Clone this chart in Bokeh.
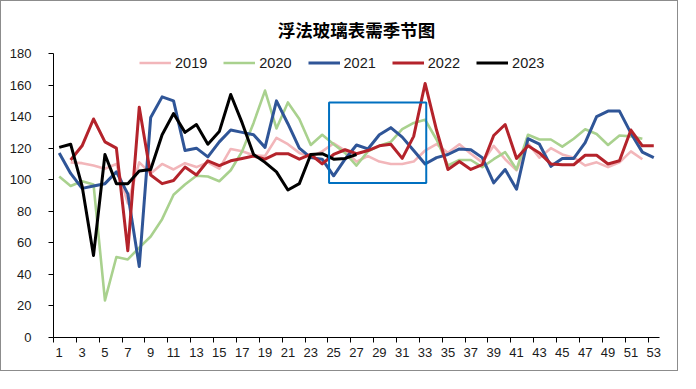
import numpy as np
from bokeh.plotting import figure
from bokeh.models import Range1d, FixedTicker, Legend, LegendItem, BoxAnnotation, ColumnDataSource
from bokeh.embed import file_html
from bokeh.resources import INLINE

nan = float("nan")

title_text = "浮法玻璃表需季节图"
weeks = list(range(1, 54))
x_tick_labels = list(range(1, 54, 2))
y_ticks = list(range(0, 181, 20))

s2019 = [nan, 111, 110.5, 109, 107, 110, 85, 111, 104, 110, 106.5, 110.5, 108, 111, 107, 119.5,
         118, 115.5, 115, 126.5, 122.5, 117, 114.5, 118, 123, 118.5, 111.5, 115, 111.5, 110, 110,
         111.5, 118.5, 122.5, 117, 122.5, 116.5, 111, 121.5, 113, 106, 123, 114, 120, 116, 114,
         109, 111, 108, 111, 118, 113, nan]
s2020 = [102, 96, 99, 97, 23.5, 51, 49.5, 57, 64, 75, 90.5, 97, 102.5, 102, 99, 106, 118, 136,
         156.5, 132.5, 149, 138.5, 122, 128.5, 122.5, 117, 109, 118, 121.5, 124, 132, 136, 138,
         125.5, 109, 112.5, 112.5, 108, 113, 117.5, 106.5, 128.5, 125.5, 125.5, 121, 126, 132,
         129, 122, 128, 127.5, 126, nan]
s2021 = [117, 104, 94.5, 96, 97.5, 105, 91, 45, 139.5, 152.5, 150, 118.5, 120, 114.5, 124, 131.5,
         130, 128.5, 120.5, 150, 135.5, 120, 114, 113, 102.5, 113, 122, 119.5, 128.5, 133, 127,
         118.5, 110, 114, 116, 119.5, 119, 114, 98, 106.5, 94, 126, 122.5, 108.5, 113.5, 113.5,
         123.5, 140, 143.5, 143.5, 129.5, 117.5, 114]
s2022 = [nan, 112.5, 121.5, 138.5, 124, 120, 55, 146, 103, 97.5, 99.5, 108, 103, 112, 109, 112,
         113.5, 115, 113, 116.5, 116.5, 113, 116, 110, 116, 119, 116.5, 118.5, 121.5, 122.5, 113.5,
         127.5, 161, 131.5, 106.5, 111.5, 106.5, 109.5, 128, 135, 113.5, 121.5, 117, 110, 109.5,
         109.5, 115.5, 115.5, 110, 112, 131.5, 121.5, 121.5]
s2023 = [120.5, 122.5, 96, 52, 116, 97.5, 97.5, 105.5, 106.5, 128.5, 142, 130, 135, 122.5, 130.5,
         154, 136, 116, 111, 105, 93.5, 97.5, 116, 116.5, 113, 113.5, 116] + [nan] * 26

series_names = ["2019", "2020", "2021", "2022", "2023"]
series_values = [s2019, s2020, s2021, s2022, s2023]
series_colors = ["#F2B6BA", "#A9D18E", "#2F5597", "#B4232B", "#000000"]
series_widths = [2.6, 2.6, 3, 3, 3]

# highlighted window (weeks / values)
hl_weeks = (24.6, 33.1)
hl_values = (98, 149)

TXT = "#1a1a1a"
NUMFONT = "Liberation Sans"

p = figure(width=678, height=371, output_backend="svg", toolbar_location=None,
           x_range=Range1d(0.5, 53.5), y_range=Range1d(0, 180),
           min_border_left=52, min_border_right=20, min_border_top=52, min_border_bottom=35,
           background_fill_color="white", border_fill_color="white",
           styles={"border": "1px solid #8c8c8c"})
p.outline_line_color = None
p.xgrid.visible = False
p.ygrid.visible = False

p.title.text = title_text
p.title.text_font = "Noto Sans CJK SC"
p.title.text_font_size = "17.5px"
p.title.text_font_style = "bold"
p.title.text_color = "#000000"
p.title.align = "center"
p.title.vertical_align = "top"
p.title.offset = -6
p.title.standoff = 19

items = []
for name, vals, col, lw in zip(series_names, series_values, series_colors, series_widths):
    src = ColumnDataSource(dict(x=weeks, y=np.array(vals, dtype=float)))
    r = p.line("x", "y", source=src, line_color=col, line_width=lw, line_join="round")
    items.append(LegendItem(label=name, renderers=[r]))

box = BoxAnnotation(left=hl_weeks[0], right=hl_weeks[1], bottom=hl_values[0], top=hl_values[1],
                    fill_color=None, fill_alpha=0, line_color="#0070C0", line_alpha=1.0,
                    line_width=2)
p.add_layout(box)

xa = p.xaxis[0]
xa.ticker = FixedTicker(ticks=x_tick_labels, minor_ticks=[w - 0.5 for w in range(1, 54, 2)])
xa.major_tick_out = 0
xa.major_tick_in = 0
xa.minor_tick_out = 5
xa.minor_tick_in = 0
xa.minor_tick_line_color = "#000000"
xa.axis_line_color = "#000000"
xa.major_label_text_font = NUMFONT
xa.major_label_text_font_size = "13px"
xa.major_label_text_color = TXT
xa.major_label_standoff = 5

ya = p.yaxis[0]
ya.ticker = FixedTicker(ticks=y_ticks, minor_ticks=[])
ya.major_tick_out = 5
ya.major_tick_in = 0
ya.major_tick_line_color = "#000000"
ya.axis_line_color = "#000000"
ya.major_label_text_font = NUMFONT
ya.major_label_text_font_size = "13px"
ya.major_label_text_color = TXT
ya.major_label_standoff = 17

legend = Legend(items=items, orientation="horizontal", location=(86, 265),
                padding=0, margin=0, spacing=16, glyph_width=32, glyph_height=19,
                label_height=19, label_standoff=4,
                label_text_font=NUMFONT, label_text_font_size="14.5px", label_text_color=TXT,
                border_line_color=None, background_fill_alpha=0)
p.add_layout(legend, "center")

open("out.html", "w").write(file_html(p, INLINE))
